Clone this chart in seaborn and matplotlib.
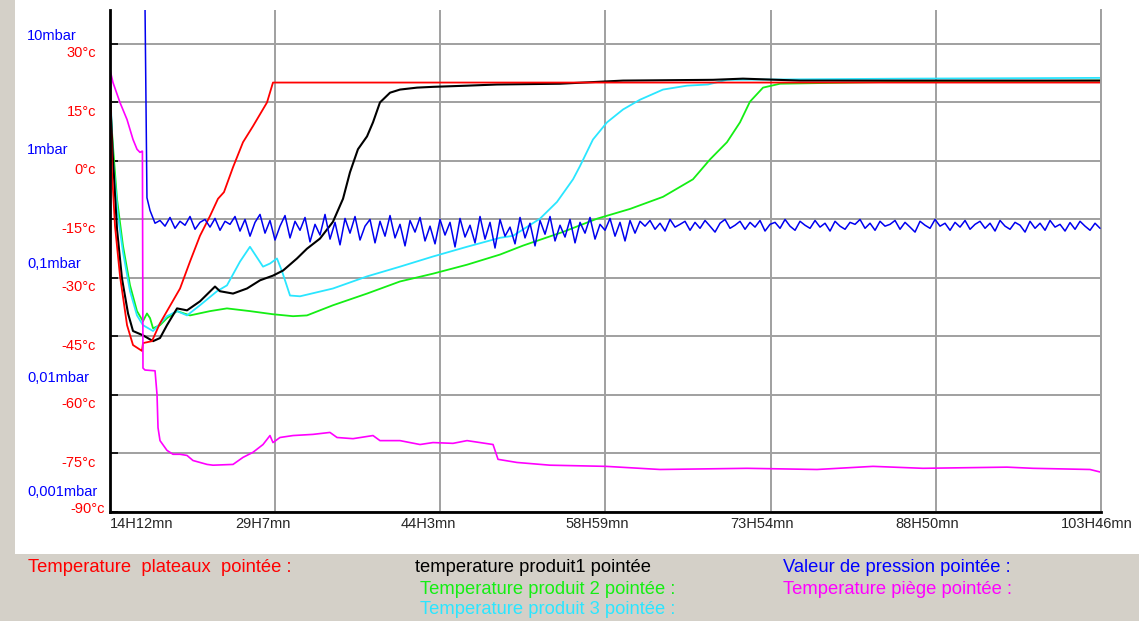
import numpy as np
import matplotlib
matplotlib.use("Agg")
import matplotlib.pyplot as plt
import matplotlib.transforms as mtransforms
import seaborn as sns
from matplotlib.patches import Rectangle

# axis ticks (time in hours since start)
tick_hours = [14.2, 29.117, 44.05, 58.983, 73.9, 88.833, 103.767]
tick_labels = ["14H12mn", "29H7mn", "44H3mn", "58H59mn", "73H54mn", "88H50mn", "103H46mn"]
temp_ticks = [30, 15, 0, -15, -30, -45, -60, -75, -90]
pressure_ticks = [10, 1, 0.1, 0.01, 0.001]
pressure_labels = ["10mbar", "1mbar", "0,1mbar", "0,01mbar", "0,001mbar"]

# Temperature plateaux
plateau_t = [14.2, 14.38, 14.65, 15.10, 15.74, 16.28, 17.09, 17.18, 17.99, 18.72, 19.35,
             20.53, 21.43, 22.33, 23.24, 23.96, 24.5, 25.32, 26.22, 27.12, 28.39, 28.93, 103.77]
plateau_temp = [23.4, -2.9, -16.6, -29.4, -42.1, -47.2, -48.7, -46.7, -46.2, -41.6, -38.5,
                -32.7, -25.8, -19.2, -14.1, -9.7, -8.0, -1.6, 4.8, 8.9, 15.0, 20.1, 20.1]

# temperature produit1
prod1_t = [14.2, 14.47, 14.83, 15.28, 15.83, 16.28, 17.18, 18.09, 18.72, 19.35, 20.26, 21.16,
           22.33, 23.69, 24.14, 25.32, 26.58, 27.76, 28.93, 29.84, 31.10, 32.00, 33.18, 34.35,
           35.26, 35.89, 36.61, 37.43, 37.97, 38.60, 39.51, 40.41, 41.95, 43.39, 46.47, 49.18,
           54.87, 60.57, 68.70, 71.41, 76.56, 103.77]
prod1_temp = [17.0, 0.4, -17.4, -30.1, -39.1, -43.6, -44.7, -46.2, -45.4, -42.1, -37.8, -38.3,
              -36.0, -32.2, -33.4, -34.0, -32.7, -30.6, -29.4, -28.1, -25.0, -22.5, -19.9, -15.6,
              -9.7, -2.9, 3.0, 6.3, 9.9, 15.0, 17.5, 18.3, 18.8, 19.0, 19.3, 19.6,
              19.8, 20.6, 20.8, 21.1, 20.6, 20.6]

# Temperature produit 2
prod2_t = [14.2, 14.47, 14.83, 15.37, 16.01, 16.64, 17.18, 17.54, 17.82, 18.09, 18.72, 19.35,
           20.26, 21.43, 23.24, 24.77, 26.85, 28.93, 30.74, 32.00, 34.35, 37.43, 40.41, 43.39,
           46.47, 49.45, 51.53, 55.14, 58.22, 61.20, 64.18, 66.89, 68.43, 69.96, 71.14, 72.04,
           73.22, 74.76, 85.60, 103.77]
prod2_temp = [15.0, 3.8, -9.7, -21.7, -31.9, -38.5, -41.1, -39.1, -40.3, -42.9, -42.1, -40.3,
              -38.5, -39.6, -38.5, -37.8, -38.5, -39.3, -39.8, -39.6, -37.0, -34.0, -30.9, -28.9,
              -26.6, -24.0, -21.7, -18.2, -14.8, -12.3, -9.2, -4.7, 0.4, 4.8, 9.9, 15.2,
              18.8, 19.8, 20.3, 20.6]

# Temperature produit 3
prod3_t = [14.2, 14.47, 14.92, 15.37, 16.01, 16.64, 17.18, 18.09, 19.35, 20.26, 21.16, 22.33,
           23.87, 24.77, 25.95, 26.85, 28.03, 28.66, 29.29, 29.75, 30.47, 31.37, 34.35, 37.43,
           40.41, 43.39, 46.47, 49.45, 50.62, 53.06, 54.60, 56.05, 56.68, 57.85, 59.12, 60.57,
           62.10, 64.18, 66.35, 68.25, 69.96, 86.05, 103.77]
prod3_temp = [20.1, 0.4, -14.1, -23.3, -33.4, -39.6, -42.1, -43.6, -39.8, -38.5, -39.6, -37.0,
              -33.4, -31.9, -25.8, -22.0, -27.1, -26.3, -25.0, -28.3, -34.5, -34.7, -32.7, -29.6,
              -27.1, -24.5, -22.0, -19.7, -19.2, -14.8, -10.5, -4.7, -1.3, 5.5, 9.9, 13.2,
              15.7, 18.3, 19.3, 19.6, 20.8, 21.1, 21.3]

# Temperature piège
trap_t = [14.2, 14.47, 15.10, 15.74, 16.28, 16.64, 16.91, 17.09, 17.13, 17.18, 17.36, 18.27,
          18.45, 18.54, 18.72, 19.35, 19.89, 20.53, 21.16, 21.70, 22.97, 23.51, 25.32, 26.22,
          27.12, 28.03, 28.66, 28.93, 29.56, 30.74, 32.55, 34.08, 34.72, 36.16, 37.97, 38.60,
          40.41, 42.22, 43.39, 45.20, 46.47, 48.82, 49.27, 50.98, 53.97, 59.03, 63.91, 71.77,
          78.10, 83.16, 87.68, 95.27, 97.62, 102.77, 103.77]
trap_temp = [23.4, 20.1, 15.0, 10.6, 5.5, 3.0, 2.2, 2.5, 2.5, -53.1, -53.6, -53.8,
             -59.9, -68.4, -71.7, -74.2, -75.2, -75.2, -75.5, -76.8, -77.8, -78.0, -77.8, -76.0,
             -74.7, -72.7, -70.4, -72.2, -70.9, -70.4, -70.1, -69.6, -70.9, -71.2, -70.4, -71.7,
             -71.7, -72.7, -72.2, -72.4, -71.7, -72.7, -76.5, -77.3, -78.0, -78.3, -79.1, -78.8,
             -79.1, -78.3, -78.8, -78.5, -78.8, -79.1, -79.8]

# Valeur de pression (mbar): initial drop, then readings every ~0.45 h
pressure_start_t = [17.36, 17.54, 17.82, 18.27]
pressure_start = [20.0, 0.378, 0.292, 0.226]
pressure_noisy = [
    .239, .213, .254, .204, .235, .217, .259, .200, .230, .244, .209, .249, .196, .235,
    .221, .259, .193, .244, .174, .230, .270, .185, .239, .161,
    .213, .264, .168, .235, .196, .254, .155, .221, .178, .270,
    .164, .230, .146, .249, .185, .259, .161, .213, .244, .152,
    .235, .174, .264, .168, .221, .143, .239, .189, .254, .158,
    .213, .149, .244, .178, .230, .140, .249, .171, .217, .152,
    .259, .164, .230, .137, .244, .174, .209, .149, .254, .168,
    .226, .143, .239, .181, .259, .158, .217, .171, .244, .152,
    .230, .185, .254, .164, .221, .196, .249, .174, .230, .158,
    .239, .185, .235,
    .213, .239, .200, .226, .193, .244, .209, .221, .235, .196,
    .230, .204, .239, .213, .189, .226, .244, .204, .217, .235,
    .200, .230, .209, .239, .193, .221, .230, .204, .244, .213,
    .196, .235, .217, .204, .239, .209, .226, .193, .235, .213,
    .200, .230, .221, .244, .204, .226, .196, .235, .213, .221,
    .239, .200, .230, .209, .189, .235, .217, .204, .244, .213,
    .226, .196, .230, .209, .239, .200, .221, .235, .204, .226,
    .193, .239, .213, .200, .230, .217, .189, .235, .204, .226,
    .196, .239, .209, .221, .193, .229, .200, .235, .213, .196,
    .226, .204]
pressure_t = pressure_start_t + list(np.linspace(18.72, 103.68, len(pressure_noisy)))
pressure = pressure_start + pressure_noisy

W, H = 1139, 621
sns.set_style("white")
plt.rcParams["font.family"] = ["Liberation Sans", "DejaVu Sans"]

fig = plt.figure(figsize=(W / 100, H / 100), dpi=100, facecolor="#d4d0c8")
fig.add_artist(Rectangle((15 / W, 1 - 554 / H), 1, 554 / H, transform=fig.transFigure,
                         facecolor="white", edgecolor="none", zorder=-5))

ax = fig.add_axes([110 / W, 1 - 512 / H, 991 / W, 502 / H])
ax.set_xlim(14.2, 103.767)
ax.set_ylim(-89.3, 38.7)

series = [
    (prod2_t, prod2_temp, "#14ee14", 1.3),
    (prod3_t, prod3_temp, "#2ae6ff", 1.3),
    (prod1_t, prod1_temp, "black", 1.5),
    (plateau_t, plateau_temp, "#ff0000", 1.3),
    (trap_t, trap_temp, "#ff00ff", 1.2),
]
for xs, ys, col, lw in series:
    sns.lineplot(x=xs, y=ys, ax=ax, color=col, linewidth=lw, estimator=None, sort=False)

ax.set_xticks(tick_hours)
ax.set_yticks(temp_ticks)
ax.grid(True, color="#a0a0a0", linewidth=1.4)
ax.set_axisbelow(True)
ax.tick_params(direction="in", length=6, width=1.2, color="black",
               labelleft=False, labelbottom=False)
for side in ["left", "bottom"]:
    ax.spines[side].set_color("black")
    ax.spines[side].set_linewidth(2)
ax.spines["top"].set_visible(False)
ax.spines["right"].set_color("#a0a0a0")
ax.spines["right"].set_linewidth(1.4)
ax.set_xlabel("")
ax.set_ylabel("")

# time labels
xtr = ax.get_xaxis_transform()
for i, (h, lab) in enumerate(zip(tick_hours, tick_labels)):
    dx = 0 if i == 0 else -40
    off = mtransforms.ScaledTranslation(dx / 100, -5 / 100, fig.dpi_scale_trans)
    ax.text(h, 0, lab, transform=xtr + off, ha="left", va="top", fontsize=10.5)

# temperature labels (red)
ytr = ax.get_yaxis_transform()
for t in temp_ticks:
    if t == -90:
        ax.text(-0.005, -89.3, "-90°c", transform=ytr, ha="right", va="center",
                color="#ff0000", fontsize=10.5)
    else:
        ax.text(-0.0141, t - 2.4, f"{t}°c", transform=ytr, ha="right", va="center",
                color="#ff0000", fontsize=10.5)

# pressure (log axis, blue)
ax2 = ax.twinx()
sns.lineplot(x=pressure_t, y=pressure, ax=ax2, color="#0000f0", linewidth=1.1,
             estimator=None, sort=False)
ax2.set_yscale("log")
ax2.set_ylim(10 ** -3.179, 10 ** 1.2246)
ax2.set_xlim(14.2, 103.767)
ax2.set_yticks([])
ax2.minorticks_off()
ax2.tick_params(axis="y", which="both", right=False, labelright=False)
for s in ax2.spines.values():
    s.set_visible(False)
ax2.set_ylabel("")
ytr2 = ax2.get_yaxis_transform()
for p, lab in zip(pressure_ticks, pressure_labels):
    ax2.text(-0.0838, p, lab, transform=ytr2, ha="left", va="center",
             color="#0000ff", fontsize=10.5)

# legend area
legend_items = [
    (28, 568, "Temperature  plateaux  pointée :", "#ff0000"),
    (415, 568, "temperature produit1 pointée", "black"),
    (420, 589, "Temperature produit 2 pointée :", "#14ee14"),
    (420, 610, "Temperature produit 3 pointée :", "#2ae6ff"),
    (783, 568, "Valeur de pression pointée :", "#0000ff"),
    (783, 589, "Temperature piège pointée :", "#ff00ff"),
]
for x, y, txt, col in legend_items:
    fig.text(x / W, 1 - y / H, txt, color=col, fontsize=13.2, ha="left", va="center")

fig.savefig("out.png", dpi=100, facecolor=fig.get_facecolor())
